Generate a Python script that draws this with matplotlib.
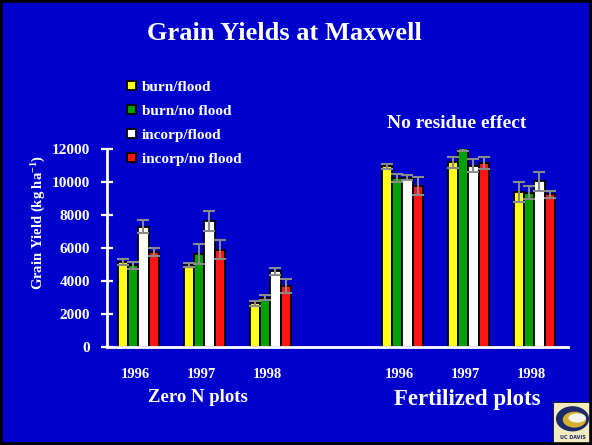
import matplotlib
matplotlib.use("Agg")
import matplotlib.pyplot as plt
import numpy as np
from matplotlib.patches import Rectangle, Ellipse

# ---- data ----
groups = ["1996", "1997", "1998", "1996", "1997", "1998"]
group_pos = [0, 1, 2, 4, 5, 6]
series = ["burn/flood", "burn/no flood", "incorp/flood", "incorp/no flood"]
burn_flood = [5150, 4950, 2650, 10950, 11200, 9400]
burn_noflood = [4950, 5650, 3000, 10250, 12250, 9350]
incorp_flood = [7300, 7650, 4600, 10250, 11000, 10050]
incorp_noflood = [5750, 5900, 3700, 9750, 11150, 9250]
err_burn_flood = [180, 130, 150, 140, 330, 590]
err_burn_noflood = [230, 600, 170, 250, 390, 400]
err_incorp_flood = [400, 600, 210, 150, 420, 570]
err_incorp_noflood = [250, 590, 430, 560, 380, 220]
yticks = [0, 2000, 4000, 6000, 8000, 10000, 12000]

values = [burn_flood, burn_noflood, incorp_flood, incorp_noflood]
errors = [err_burn_flood, err_burn_noflood, err_incorp_flood, err_incorp_noflood]
colors = ["#FFFF1A", "#00A000", "#FFFFFF", "#FF1414"]

BG = "#0000CC"
plt.rcParams['font.family'] = ['Liberation Serif', 'DejaVu Serif']
plt.rcParams['font.weight'] = 'bold'
plt.rcParams['mathtext.fontset'] = 'custom'
plt.rcParams['mathtext.rm'] = 'Liberation Serif:bold'
plt.rcParams['mathtext.bf'] = 'Liberation Serif:bold'
plt.rcParams['mathtext.default'] = 'bf'

fig = plt.figure(figsize=(5.92, 4.45), dpi=100, facecolor=BG)
ax = fig.add_axes([107/592, 98/445, 461/592, 198/445])
ax.set_facecolor(BG)

w = 0.156
pos = np.array(group_pos, dtype=float)
handles = []
for i, (vals, errs, c, lab) in enumerate(zip(values, errors, colors, series)):
    x = pos + (i - 1.5) * w
    b = ax.bar(x, vals, width=w, color=c, edgecolor="black", linewidth=1.3,
               label=lab, zorder=2)
    ax.errorbar(x, vals, yerr=errs, fmt="none", ecolor="#8A8A8A",
                elinewidth=1.5, capsize=4, capthick=1.5, zorder=3)
    handles.append(b)

ax.set_xlim(-0.474, 6.51)
ax.set_ylim(0, 12000)
ax.set_yticks(yticks)
ax.set_yticklabels([str(t) for t in yticks], color="white", fontsize=11,
                   fontweight="bold")
ax.tick_params(axis="y", direction="inout", length=8.5, width=1.6,
               color="white", pad=8)
ax.set_xticks(pos - 0.05)
ax.set_xticklabels(groups, color="white", fontsize=10.5, fontweight="bold")
ax.tick_params(axis="x", length=0, pad=15)
for s in ["top", "right"]:
    ax.spines[s].set_visible(False)
for s in ["left", "bottom"]:
    ax.spines[s].set_color("white")
    ax.spines[s].set_linewidth(2)

ax.set_ylabel("Grain Yield (kg ha$^{-1}$)", color="white",
              fontsize=10.5, fontweight="bold")
ax.yaxis.set_label_coords(-0.127, 0.63)

leg = fig.legend(handles=handles, labels=series, loc="upper left",
                 bbox_to_anchor=(121/592, 1 - 75/445), frameon=False,
                 fontsize=11, handlelength=0.55, handleheight=0.55,
                 handletextpad=0.4, labelspacing=0.72, borderaxespad=0)
for t in leg.get_texts():
    t.set_color("white")
    t.set_fontweight("bold")

fig.text(284/592, 1 - 33/445, "Grain Yields at Maxwell", color="white",
         fontsize=19, fontweight="bold", ha="center", va="center")
fig.text(457/592, 1 - 124/445, "No residue effect", color="white",
         fontsize=14, fontweight="bold", ha="center", va="center")
fig.text(198/592, 1 - 397/445, "Zero N plots", color="white",
         fontsize=13.5, fontweight="bold", ha="center", va="center")
fig.text(467/592, 1 - 399/445, "Fertilized plots", color="white",
         fontsize=16.5, fontweight="bold", ha="center", va="center")

# slide border
fig.patches.append(Rectangle((0, 0), 1, 1, transform=fig.transFigure,
                             fill=False, edgecolor="black", linewidth=4))

# logo
lax = fig.add_axes([553/592, 1/445, 39/592, 42/445])
lax.set_xlim(0, 1); lax.set_ylim(0, 1); lax.axis("off")
lax.add_patch(Rectangle((0, 0), 1, 1, facecolor="#F3EBC0", edgecolor="black",
                        linewidth=1.2))
lax.add_patch(Ellipse((0.5, 0.6), 0.85, 0.6, facecolor="#1A2A6A"))
lax.add_patch(Ellipse((0.55, 0.58), 0.6, 0.38, facecolor="#D8B030"))
lax.add_patch(Ellipse((0.62, 0.62), 0.45, 0.22, facecolor="#F5F5F0"))
lax.text(0.5, 0.15, "UC DAVIS", fontsize=3.5, color="#1A2A6A",
         ha="center", va="center", family="DejaVu Sans", fontweight="bold")

fig.savefig("out.png", dpi=100, facecolor=BG)
